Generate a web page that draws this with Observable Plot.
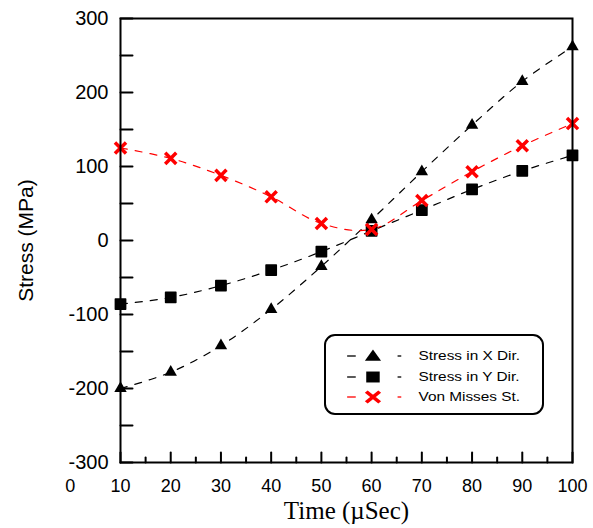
<!DOCTYPE html>
<html><head><meta charset="utf-8">
<script src="https://cdn.jsdelivr.net/npm/d3@7"></script>
<script src="https://cdn.jsdelivr.net/npm/@observablehq/plot@0.6"></script>
<style>
body{margin:0;background:#fff}
#wrap{position:relative;width:593px;height:528px}
#wrap svg.legend{position:absolute;left:0;top:0;pointer-events:none}
</style>
</head><body><div id="wrap"></div>
<script>
// ---- data ----
const time = [10, 20, 30, 40, 50, 60, 70, 80, 90, 100];
const stressX = [-200, -178, -142, -93, -35, 28, 93, 156, 215, 262];
const stressY = [-86, -77, -61, -40, -15, 13, 41, 69, 94, 115];
const vonMises = [125, 111, 88, 59, 23, 15, 54, 93, 128, 158];
const seriesNames = ["Stress in X Dir.", "Stress in Y Dir.", "Von Misses St."];
const seriesColors = ["#000000", "#000000", "#ff0000"];
const seriesSymbols = ["triangle", "square", "times"];
const yTicks = [-300, -200, -100, 0, 100, 200, 300];
const yMinorTicks = [-250, -150, -50, 50, 150, 250];
const xTickLabels = [0, 10, 20, 30, 40, 50, 60, 70, 80, 90, 100];
const xMajorTicks = [10, 20, 30, 40, 50, 60, 70, 80, 90, 100];
const xMinorTicks = [15, 25, 35, 45, 55, 65, 75, 85, 95];
const xTitle = "Time (\u00b5Sec)";
const yTitle = "Stress (MPa)";

const seriesValues = [stressX, stressY, vonMises];
const tables = seriesValues.map(vals => time.map((t, i) => ({t, v: vals[i]})));

const tickShape = {draw(ctx, l) { ctx.moveTo(0, 0); ctx.lineTo(0, -l); }};
const sans = "Liberation Sans, Arial, sans-serif";
const serif = "Liberation Serif, Times New Roman, serif";

const marks = [];
// dashed connecting curves
tables.forEach((tb, k) => {
  marks.push(Plot.line(tb, {x: "t", y: "v", stroke: seriesColors[k], strokeWidth: 1.2,
    strokeDasharray: "7,8", curve: "catmull-rom"}));
});
// markers
marks.push(Plot.dot(tables[0], {x: "t", y: "v", symbol: "triangle", r: 4.6, fill: "black"}));
marks.push(Plot.dot(tables[1], {x: "t", y: "v", symbol: "square", r: 5.8, fill: "black",
  stroke: "black", strokeWidth: 1.5, strokeLinejoin: "round"}));
marks.push(Plot.dot(tables[2], {x: "t", y: "v", symbol: "times", r: 5.1, stroke: "#ff0000", strokeWidth: 3.5}));
// frame
marks.push(Plot.frame({stroke: "black", strokeWidth: 2}));
// inward ticks
marks.push(Plot.vector(yTicks.concat(yMinorTicks), {x: 10, y: d => d, length: 12, rotate: 90,
  anchor: "start", shape: tickShape, stroke: "black", strokeWidth: 2}));
marks.push(Plot.vector(xMajorTicks, {x: d => d, y: -300, length: 10, rotate: 0,
  anchor: "start", shape: tickShape, stroke: "black", strokeWidth: 2}));
marks.push(Plot.vector(xMinorTicks, {x: d => d, y: -300, length: 5, rotate: 0,
  anchor: "start", shape: tickShape, stroke: "black", strokeWidth: 2}));
// tick labels
marks.push(Plot.text(yTicks, {y: d => d, text: d => String(d), frameAnchor: "left", dx: -12,
  textAnchor: "end", lineAnchor: "middle", fontSize: 20, fontFamily: sans, fill: "black"}));
marks.push(Plot.text(xTickLabels, {x: d => d, text: d => String(d), frameAnchor: "bottom", dy: 24,
  textAnchor: "middle", lineAnchor: "middle", fontSize: 18, fontFamily: sans, fill: "black"}));
// axis titles
marks.push(Plot.text([yTitle], {text: d => d, frameAnchor: "left", dx: -94, rotate: -90,
  textAnchor: "middle", lineAnchor: "middle", fontSize: 21, fontFamily: sans, fill: "black"}));
marks.push(Plot.text([xTitle], {text: d => d, frameAnchor: "bottom", dy: 48,
  textAnchor: "middle", lineAnchor: "middle", fontSize: 25, fontFamily: serif, fill: "black"}));

const chart = Plot.plot({
  width: 593, height: 528,
  marginLeft: 120, marginRight: 21, marginTop: 18, marginBottom: 66,
  x: {domain: [10, 100], axis: null},
  y: {domain: [-300, 300], axis: null},
  style: {background: "white", overflow: "visible"},
  marks
});
const wrap = document.getElementById("wrap");
wrap.appendChild(chart);

// ---- legend overlay (inside plot area, as in the reference) ----
const svg = d3.select(wrap).append("svg").attr("class", "legend")
  .attr("width", 593).attr("height", 528);
svg.append("rect").attr("x", 325).attr("y", 335).attr("width", 218).attr("height", 79)
  .attr("rx", 10).attr("fill", "white").attr("stroke", "black").attr("stroke-width", 2);
const sx = 1.23;
const rowY = [356, 377, 397];
seriesNames.forEach((name, k) => {
  const g = svg.append("g").attr("transform", `translate(325,${rowY[k]}) scale(${sx},1)`);
  const c = seriesColors[k];
  g.append("line").attr("x1", 18).attr("x2", 25).attr("y1", 0).attr("y2", 0)
    .attr("stroke", c).attr("stroke-width", 1.3);
  g.append("line").attr("x1", 59).attr("x2", 62).attr("y1", 0).attr("y2", 0)
    .attr("stroke", c).attr("stroke-width", 1.3);
  const sym = seriesSymbols[k];
  if (sym === "triangle") {
    g.append("path").attr("transform", "translate(39,1)")
      .attr("d", d3.symbol(d3.symbolTriangle, 75)()).attr("fill", c);
  } else if (sym === "square") {
    g.append("path").attr("transform", "translate(39,0)")
      .attr("d", d3.symbol(d3.symbolSquare, 120)()).attr("fill", c);
  } else {
    g.append("path").attr("transform", "translate(39,0)")
      .attr("d", d3.symbol(d3.symbolTimes, 80)()).attr("fill", "none")
      .attr("stroke", c).attr("stroke-width", 3.2);
  }
  g.append("text").attr("x", 76).attr("y", 0).attr("dy", "0.35em")
    .attr("font-family", sans).attr("font-size", 12.5).attr("fill", "black").text(name);
});
</script>
</body></html>
